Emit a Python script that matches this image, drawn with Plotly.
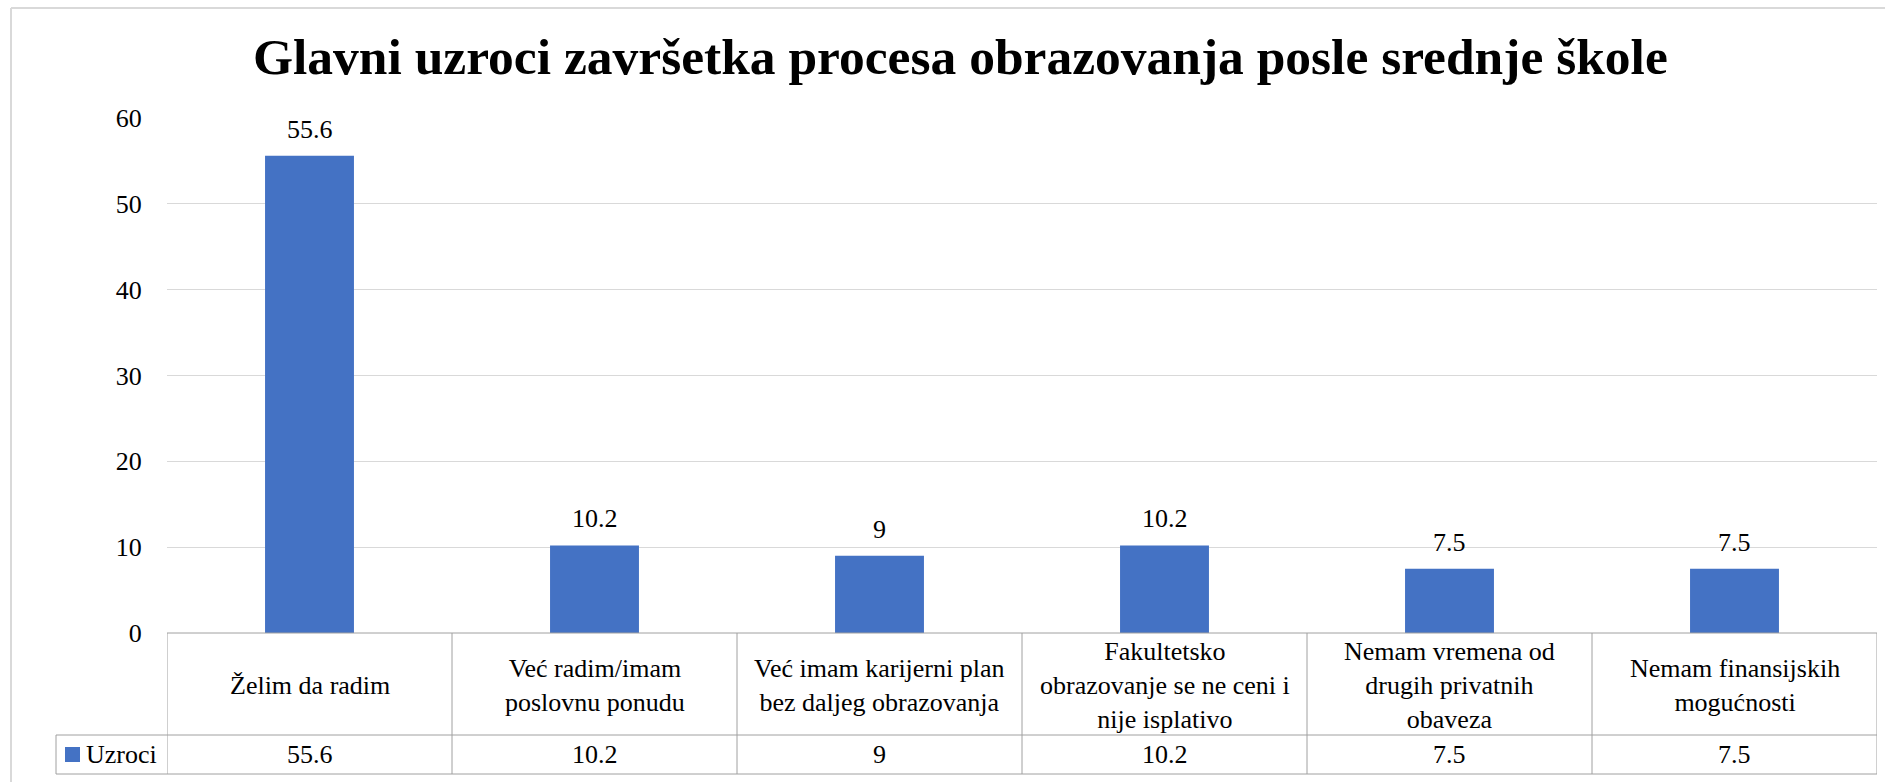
import plotly.graph_objects as go

# ---------------- data ----------------
categories = [
    "Želim da radim",
    "Već radim/imam<br>poslovnu ponudu",
    "Već imam karijerni plan<br>bez daljeg obrazovanja",
    "Fakultetsko<br>obrazovanje se ne ceni i<br>nije isplativo",
    "Nemam vremena od<br>drugih privatnih<br>obaveza",
    "Nemam finansijskih<br>mogućnosti",
]
series_name = "Uzroci"
values = [55.6, 10.2, 9, 10.2, 7.5, 7.5]
y_ticks = [0, 10, 20, 30, 40, 50, 60]
title_text = "Glavni uzroci završetka procesa obrazovanja posle srednje škole"

# ---------------- layout constants ----------------
W, H = 1885, 782
L, R, T, B = 167, 8, 118, 149
PW, PH = W - L - R, H - T - B
FONT = "Liberation Serif"
BAR_COLOR = "#4472C4"
GRID = "#D9D9D9"
TABLE_LINE = "#A0A0A0"


def px_x(p):
    return (p - L) / PW


def px_y(p):
    return (H - B - p) / PH


n = len(categories)
xs = list(range(n))

fig = go.Figure()
fig.add_trace(go.Bar(
    x=xs, y=values, name=series_name,
    marker=dict(color=BAR_COLOR, line=dict(width=0)),
    showlegend=False, hoverinfo="x+y",
))

shapes = []
annotations = []

# chart frame (light gray)
shapes.append(dict(type="line", xref="paper", yref="paper",
                   x0=px_x(11), x1=px_x(W + 5), y0=px_y(8), y1=px_y(8),
                   line=dict(color=GRID, width=2)))
shapes.append(dict(type="line", xref="paper", yref="paper",
                   x0=px_x(11), x1=px_x(11), y0=px_y(8), y1=px_y(H + 5),
                   line=dict(color=GRID, width=2)))

# data table lines
row_sep, row_bot, leg_left = 735, 774, 56
shapes.append(dict(type="line", xref="x", yref="paper",
                   x0=-0.5, x1=n - 0.5, y0=0, y1=0,
                   line=dict(color=TABLE_LINE, width=1)))
for yy in (row_sep, row_bot):
    shapes.append(dict(type="line", xref="paper", yref="paper",
                       x0=px_x(leg_left), x1=1, y0=px_y(yy), y1=px_y(yy),
                       line=dict(color=TABLE_LINE, width=1)))
for i in range(n + 1):
    shapes.append(dict(type="line", xref="x", yref="paper",
                       x0=i - 0.5, x1=i - 0.5, y0=0, y1=px_y(row_bot),
                       line=dict(color=TABLE_LINE, width=1)))
shapes.append(dict(type="line", xref="paper", yref="paper",
                   x0=px_x(leg_left), x1=px_x(leg_left),
                   y0=px_y(row_sep), y1=px_y(row_bot),
                   line=dict(color=TABLE_LINE, width=1)))

# legend key in table
shapes.append(dict(type="rect", xref="paper", yref="paper",
                   x0=px_x(65), x1=px_x(80), y0=px_y(762), y1=px_y(747),
                   fillcolor=BAR_COLOR, line=dict(width=0)))
annotations.append(dict(text=series_name, xref="paper", yref="paper",
                        x=px_x(84), y=px_y(754.5), xanchor="left", yanchor="middle",
                        showarrow=False, font=dict(family=FONT, size=26, color="black")))

# category labels & values in the table, data labels above bars
for i, (c, v) in enumerate(zip(categories, values)):
    annotations.append(dict(text=c, xref="x", yref="paper", x=i, y=px_y(685),
                            xanchor="center", yanchor="middle", showarrow=False,
                            font=dict(family=FONT, size=26, color="black")))
    annotations.append(dict(text=f"{v:g}", xref="x", yref="paper", x=i, y=px_y(754.5),
                            xanchor="center", yanchor="middle", showarrow=False,
                            font=dict(family=FONT, size=26, color="black")))
    annotations.append(dict(text=f"{v:g}", xref="x", yref="y", x=i, y=v,
                            xanchor="center", yanchor="bottom", yshift=10, showarrow=False,
                            font=dict(family=FONT, size=26, color="black")))

# title
annotations.append(dict(text=f"<b>{title_text}</b>", xref="paper", yref="paper",
                        x=px_x(960), y=px_y(57), xanchor="center", yanchor="middle",
                        showarrow=False, font=dict(family=FONT, size=51.5, color="black")))

fig.update_layout(
    width=W, height=H,
    margin=dict(l=L, r=R, t=T, b=B, pad=0),
    paper_bgcolor="white", plot_bgcolor="white",
    bargap=0.688,
    shapes=shapes, annotations=annotations,
    xaxis=dict(range=[-0.5, n - 0.5], showticklabels=False, showgrid=False,
               zeroline=False, showline=False, ticks="", fixedrange=True),
    yaxis=dict(range=[0, 60], tickvals=y_ticks, showgrid=True, gridcolor=GRID,
               gridwidth=1, zeroline=False, showline=False,
               ticks="outside", ticklen=19, tickcolor="rgba(0,0,0,0)",
               tickfont=dict(family=FONT, size=26, color="black"), fixedrange=True),
    font=dict(family=FONT),
)

fig.write_html(
    "out.html",
    config={"displayModeBar": False},
    post_script="document.body.style.margin='0px';document.body.style.overflow='hidden';",
)
